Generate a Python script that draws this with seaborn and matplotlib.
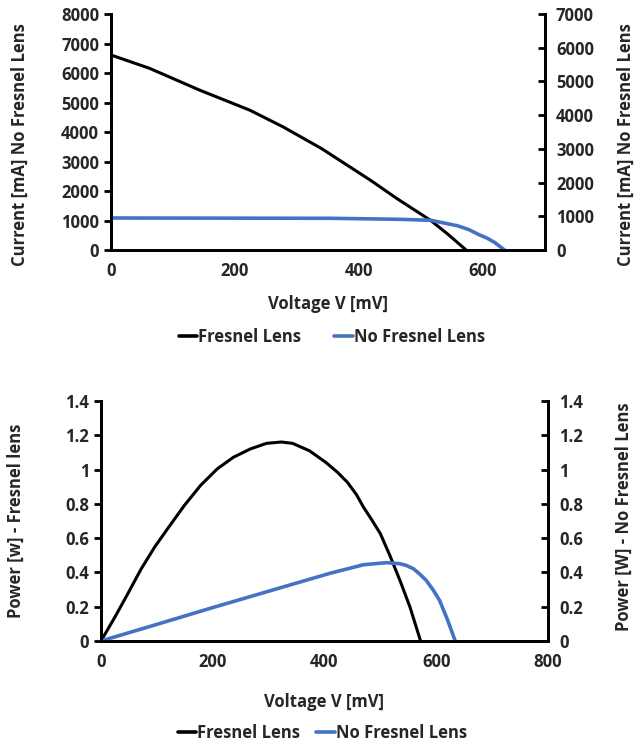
import matplotlib
matplotlib.use("Agg")
import matplotlib.pyplot as plt
import seaborn as sns
import pandas as pd
from matplotlib.lines import Line2D

# ---- data ----
# Top: current [mA] vs voltage [mV]
v_fresnel_i = [0, 62, 143, 224, 278, 340, 419, 462, 516, 543, 573]
i_fresnel = [6610, 6160, 5420, 4740, 4170, 3435, 2360, 1735, 1000, 545, 0]
v_nofresnel_i = [0, 200, 354, 462, 516, 560, 578, 592, 607, 619, 635]
i_nofresnel = [950, 945, 941, 912, 882, 715, 600, 470, 350, 224, 0]

# Bottom: power [W] vs voltage [mV]
v_fresnel_p = [0, 25, 48, 72, 96, 119, 149, 178, 208, 237, 267, 296, 323, 343,
               373, 402, 423, 441, 457, 470, 485, 500, 517, 535, 553, 572]
p_fresnel = [0, 0.14, 0.276, 0.421, 0.548, 0.654, 0.790, 0.907, 1.004, 1.072,
             1.12, 1.153, 1.161, 1.153, 1.11, 1.043, 0.985, 0.926, 0.855, 0.780,
             0.705, 0.626, 0.499, 0.354, 0.198, 0]
v_nofresnel_p = [0, 100, 200, 352, 411, 470, 511, 535, 547, 559, 570, 582, 594,
                 606, 620, 634]
p_nofresnel = [0, 0.097, 0.195, 0.340, 0.396, 0.445, 0.457, 0.451, 0.440, 0.422,
               0.392, 0.354, 0.300, 0.237, 0.125, 0]

labels = ["Fresnel Lens", "No Fresnel Lens"]
BLACK = "#000000"
BLUE = "#4472C4"

sns.set_style("white")
plt.rcParams["font.family"] = ["Open Sans", "DejaVu Sans"]
plt.rcParams["font.weight"] = "bold"
FS = 12

fig = plt.figure(figsize=(6.38, 7.45), dpi=100)

def style_axes(ax):
    ax.spines["top"].set_visible(False)
    for s in ["left", "right", "bottom"]:
        ax.spines[s].set_linewidth(2)
        ax.spines[s].set_color("black")
    ax.tick_params(axis="both", labelsize=FS, width=2, length=5, color="black")
    for t in ax.get_xticklabels() + ax.get_yticklabels():
        t.set_fontweight("bold")

# ---------- top chart ----------
ax1 = fig.add_axes([0.174, 0.6644, 0.680, 0.3168])
ax1b = ax1.twinx()
df1 = pd.DataFrame({"V": v_fresnel_i, "I": i_fresnel})
df2 = pd.DataFrame({"V": v_nofresnel_i, "I": i_nofresnel})
sns.lineplot(data=df1, x="V", y="I", ax=ax1, color=BLACK, lw=2.2, sort=False)
sns.lineplot(data=df2, x="V", y="I", ax=ax1b, color=BLUE, lw=2.6, sort=False)
ax1.set_xlim(0, 700)
ax1.set_ylim(0, 8000)
ax1b.set_ylim(0, 7000)
ax1.set_xticks([0, 200, 400, 600])
ax1.set_yticks(range(0, 8001, 1000))
ax1b.set_yticks(range(0, 7001, 1000))
ax1.tick_params(axis="both", direction="out")
ax1b.tick_params(axis="y", direction="in", pad=8)
style_axes(ax1)
style_axes(ax1b)
ax1.set_xlabel("Voltage V [mV]", fontsize=FS, fontweight="bold", labelpad=11)
ax1.set_ylabel("Current [mA] No Fresnel Lens", fontsize=FS, fontweight="bold")
ax1b.set_ylabel("Current [mA] No Fresnel Lens", fontsize=FS, fontweight="bold")
ax1.yaxis.set_label_coords(-0.19, 0.445)
ax1b.yaxis.set_label_coords(1.165, 0.445)

handles = [Line2D([], [], color=BLACK, lw=2.6), Line2D([], [], color=BLUE, lw=2.6)]
fig.legend(handles, labels, loc="center", bbox_to_anchor=(0.52, 0.548), ncol=2,
           frameon=False, handlelength=1.1, handletextpad=0.05,
           columnspacing=2.0, prop={"weight": "bold", "size": FS})

# ---------- bottom chart ----------
ax2 = fig.add_axes([0.1583, 0.1396, 0.7006, 0.3221])
ax2b = ax2.twinx()
df3 = pd.DataFrame({"V": v_fresnel_p, "P": p_fresnel})
df4 = pd.DataFrame({"V": v_nofresnel_p, "P": p_nofresnel})
sns.lineplot(data=df3, x="V", y="P", ax=ax2, color=BLACK, lw=2.2, sort=False)
sns.lineplot(data=df4, x="V", y="P", ax=ax2b, color=BLUE, lw=2.6, sort=False)
ax2.set_xlim(0, 800)
ax2.set_ylim(0, 1.4)
ax2b.set_ylim(0, 1.4)
ax2.set_xticks([0, 200, 400, 600, 800])
yt = [0, 0.2, 0.4, 0.6, 0.8, 1, 1.2, 1.4]
ytl = ["0", "0.2", "0.4", "0.6", "0.8", "1", "1.2", "1.4"]
ax2.set_yticks(yt)
ax2.set_yticklabels(ytl)
ax2b.set_yticks(yt)
ax2b.set_yticklabels(ytl)
ax2.tick_params(axis="both", direction="out")
ax2b.tick_params(axis="y", direction="in", pad=8)
style_axes(ax2)
style_axes(ax2b)
ax2.set_xlabel("Voltage V [mV]", fontsize=FS, fontweight="bold", labelpad=16)
ax2.set_ylabel("Power [w] - Fresnel lens", fontsize=FS, fontweight="bold")
ax2b.set_ylabel("Power [W] - No Fresnel Lens", fontsize=FS, fontweight="bold")
ax2.yaxis.set_label_coords(-0.17, 0.5)
ax2b.yaxis.set_label_coords(1.15, 0.52)

fig.legend(handles, labels, loc="center", bbox_to_anchor=(0.505, 0.016), ncol=2,
           frameon=False, handlelength=1.1, handletextpad=0.05,
           columnspacing=1.0, prop={"weight": "bold", "size": FS})

fig.savefig("out.png", dpi=100)
